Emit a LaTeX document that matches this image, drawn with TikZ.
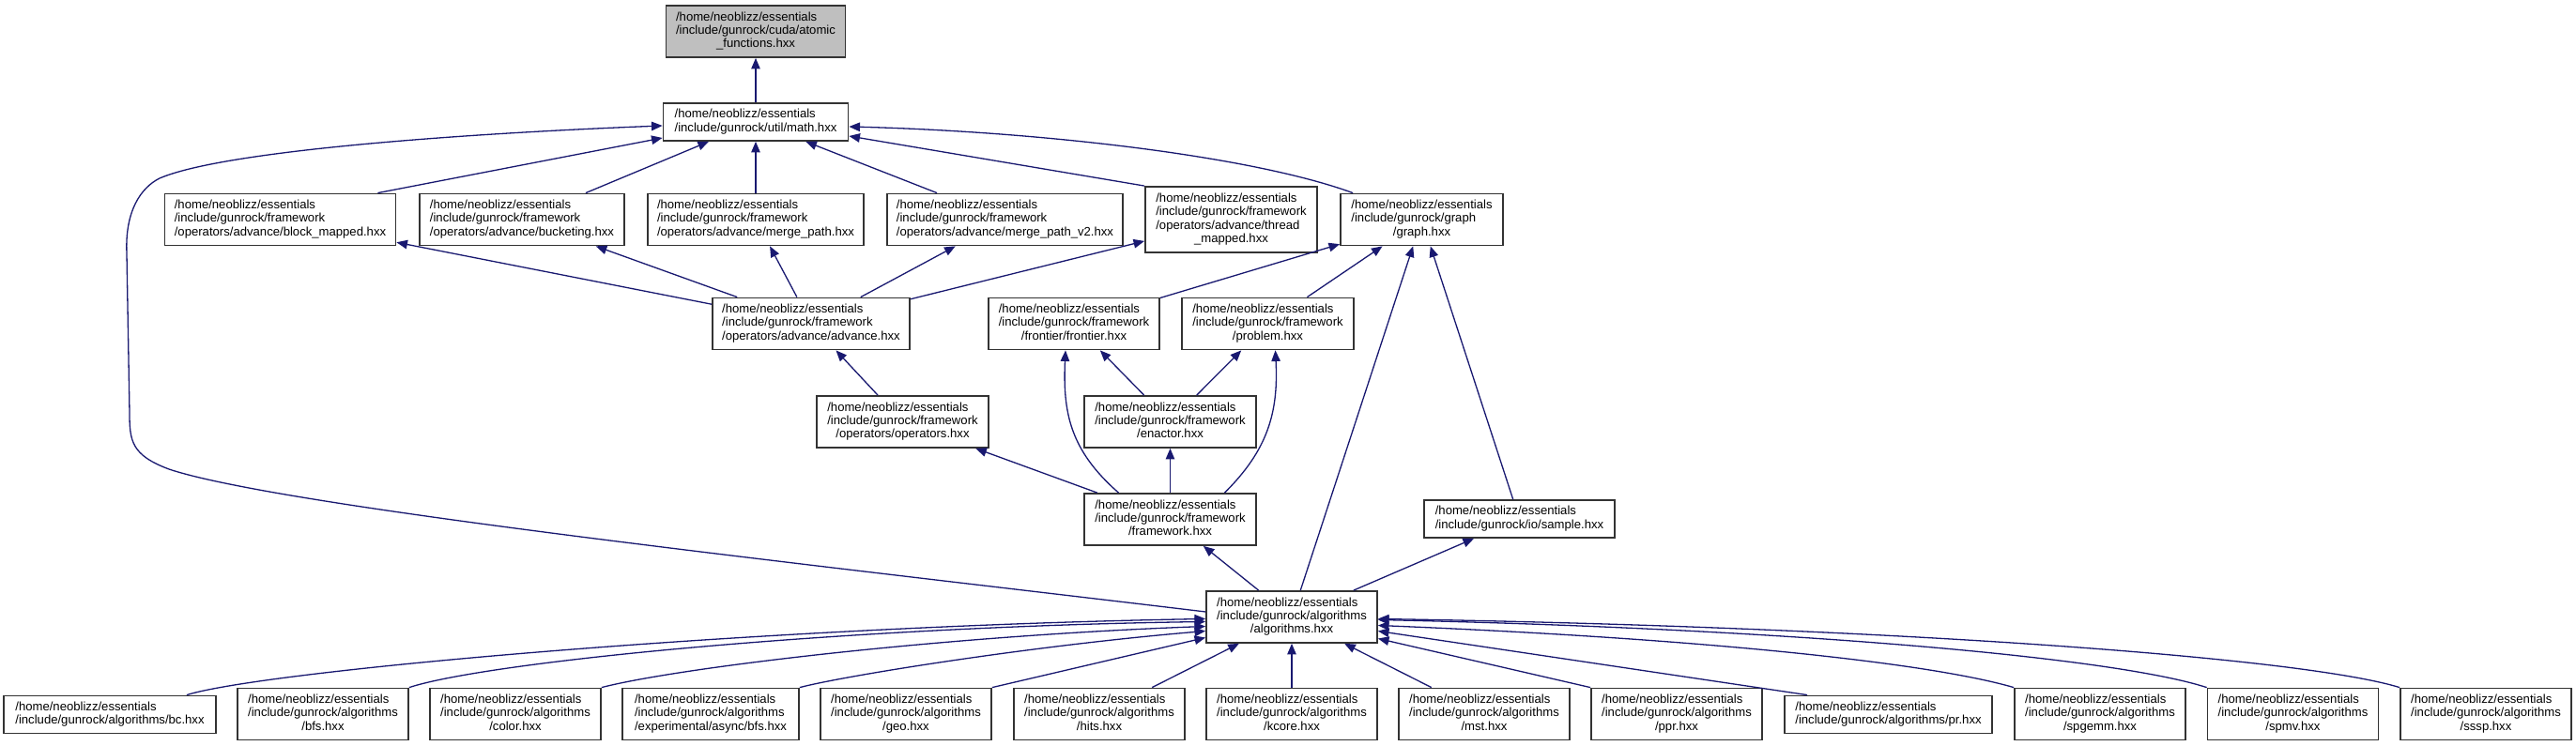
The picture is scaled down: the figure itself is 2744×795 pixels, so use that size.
\documentclass[tikz,border=0pt]{standalone}
\usepackage{fontspec}
\setmainfont{Liberation Sans}
\usetikzlibrary{arrows.meta,calc}
\definecolor{edgeblue}{RGB}{25,25,112}
\newcommand{\hxfont}{\fontsize{3.73pt}{4.07pt}\selectfont}
\newcommand{\flbl}[2]{\begin{tabular}{@{}l@{}}#1\\\multicolumn{1}{@{}c@{}}{#2}\end{tabular}}
\tikzset{hbox/.style={
    rectangle,
    draw=black!80,
    line width=0.5pt,
    fill=white,
    inner sep=0pt,
    font=\hxfont
  },
  selbox/.style={hbox,fill=black!25},
  tall2/.style={minimum height=40*0.01cm},
  tall3/.style={minimum height=55*0.01cm},
  tall4/.style={minimum height=70*0.01cm},
  wd/.style={minimum width=#1*0.01cm},
  leaf/.style={hbox,tall3,wd=182},
  incl/.style={draw=edgeblue,line width=0.37pt,-{Triangle[length=3.3pt,width=2.7pt]}},
}
\begin{document}
\begin{tikzpicture}[x=0.01cm,y=-0.01cm]
  \useasboundingbox (0,0) rectangle (2744,795);
  \node[selbox,tall3,wd=191] (atomic) at (805,33.5) {\flbl{/home/neoblizz/essentials\\/include/gunrock/cuda/atomic}{\_functions.hxx}};
  \node[hbox,tall2,wd=197] (math) at (805,130) {\flbl{/home/neoblizz/essentials}{/include/gunrock/util/math.hxx}};
  \node[hbox,tall3,wd=246] (blockm) at (298.5,234) {\flbl{/home/neoblizz/essentials\\/include/gunrock/framework}{/operators/advance/block\_mapped.hxx}};
  \node[hbox,tall3,wd=218] (bucket) at (556,234) {\flbl{/home/neoblizz/essentials\\/include/gunrock/framework}{/operators/advance/bucketing.hxx}};
  \node[hbox,tall3,wd=230] (mpath) at (805,234) {\flbl{/home/neoblizz/essentials\\/include/gunrock/framework}{/operators/advance/merge\_path.hxx}};
  \node[hbox,tall3,wd=251] (mpath2) at (1070.5,234) {\flbl{/home/neoblizz/essentials\\/include/gunrock/framework}{/operators/advance/merge\_path\_v2.hxx}};
  \node[hbox,tall4,wd=183] (thrmap) at (1311.5,234) {\flbl{/home/neoblizz/essentials\\/include/gunrock/framework\\/operators/advance/thread}{\_mapped.hxx}};
  \node[hbox,tall3,wd=173] (graph) at (1514.5,234) {\flbl{/home/neoblizz/essentials\\/include/gunrock/graph}{/graph.hxx}};
  \node[hbox,tall3,wd=210] (advance) at (864,345) {\flbl{/home/neoblizz/essentials\\/include/gunrock/framework}{/operators/advance/advance.hxx}};
  \node[hbox,tall3,wd=182] (frontier) at (1144,345) {\flbl{/home/neoblizz/essentials\\/include/gunrock/framework}{/frontier/frontier.hxx}};
  \node[hbox,tall3,wd=183] (problem) at (1350.5,345) {\flbl{/home/neoblizz/essentials\\/include/gunrock/framework}{/problem.hxx}};
  \node[hbox,tall3,wd=183] (opers) at (961.5,449.5) {\flbl{/home/neoblizz/essentials\\/include/gunrock/framework}{/operators/operators.hxx}};
  \node[hbox,tall3,wd=183] (enactor) at (1246.5,449.5) {\flbl{/home/neoblizz/essentials\\/include/gunrock/framework}{/enactor.hxx}};
  \node[hbox,tall3,wd=183] (framew) at (1246.5,553.5) {\flbl{/home/neoblizz/essentials\\/include/gunrock/framework}{/framework.hxx}};
  \node[hbox,tall2,wd=203] (sample) at (1618.5,553) {\flbl{/home/neoblizz/essentials}{/include/gunrock/io/sample.hxx}};
  \node[hbox,tall3,wd=182] (algos) at (1376,657.5) {\flbl{/home/neoblizz/essentials\\/include/gunrock/algorithms}{/algorithms.hxx}};
  \node[hbox,tall2,wd=226] (bc) at (117,761.5) {\flbl{/home/neoblizz/essentials}{/include/gunrock/algorithms/bc.hxx}};
  \node[leaf] (bfs) at (344,761) {\flbl{/home/neoblizz/essentials\\/include/gunrock/algorithms}{/bfs.hxx}};
  \node[leaf] (color) at (549,761) {\flbl{/home/neoblizz/essentials\\/include/gunrock/algorithms}{/color.hxx}};
  \node[leaf,wd=188] (async) at (757,761) {\flbl{/home/neoblizz/essentials\\/include/gunrock/algorithms}{/experimental/async/bfs.hxx}};
  \node[leaf] (geo) at (965,761) {\flbl{/home/neoblizz/essentials\\/include/gunrock/algorithms}{/geo.hxx}};
  \node[leaf] (hits) at (1171,761) {\flbl{/home/neoblizz/essentials\\/include/gunrock/algorithms}{/hits.hxx}};
  \node[leaf] (kcore) at (1376,761) {\flbl{/home/neoblizz/essentials\\/include/gunrock/algorithms}{/kcore.hxx}};
  \node[leaf] (mst) at (1581,761) {\flbl{/home/neoblizz/essentials\\/include/gunrock/algorithms}{/mst.hxx}};
  \node[leaf] (ppr) at (1786,761) {\flbl{/home/neoblizz/essentials\\/include/gunrock/algorithms}{/ppr.hxx}};
  \node[hbox,tall2,wd=221] (pr) at (2011.5,761.5) {\flbl{/home/neoblizz/essentials}{/include/gunrock/algorithms/pr.hxx}};
  \node[leaf] (spgemm) at (2237,761) {\flbl{/home/neoblizz/essentials\\/include/gunrock/algorithms}{/spgemm.hxx}};
  \node[leaf] (spmv) at (2442.5,761) {\flbl{/home/neoblizz/essentials\\/include/gunrock/algorithms}{/spmv.hxx}};
  \node[leaf] (sssp) at (2648,761) {\flbl{/home/neoblizz/essentials\\/include/gunrock/algorithms}{/sssp.hxx}};

  \draw[incl] (math) -- (atomic);
  \draw[incl] ($(blockm.north east)+(-20,0)$) -- ($(math.west)+(0,17)$);
  \draw[incl] (bucket) -- (math);
  \draw[incl] (mpath) -- (math);
  \draw[incl] (mpath2) -- (math);
  \draw[incl] (thrmap.north west) -- ($(math.east)+(0,15)$);
  \draw[incl] ($(graph.north west)+(14,0)$) .. controls (1330,165) and (1100,140) .. ($(math.east)+(0,5)$);
  \draw[incl] ($(algos.west)+(0,-5.5)$) .. controls (850,600) and (300,540) .. (180,500)
  .. controls (140,485) and (138,470) .. (138,440) -- (135,270)
  .. controls (133,225) and (150,200) .. (170,190)
  .. controls (240,160) and (500,142) .. ($(math.west)+(0,4)$);
  \draw[incl] (advance) -- (blockm);
  \draw[incl] (advance) -- (bucket);
  \draw[incl] (advance) -- (mpath);
  \draw[incl] (advance) -- (mpath2);
  \draw[incl] (advance) -- (thrmap);
  \draw[incl] (frontier) -- (graph);
  \draw[incl] (problem) -- (graph);
  \draw[incl] (opers) -- (advance);
  \draw[incl] (enactor) -- (frontier);
  \draw[incl] (enactor) -- (problem);
  \draw[incl] (framew) -- (opers);
  \draw[incl] (framew) -- (enactor);
  \draw[incl] ($(framew.north)+(-55,0)$) .. controls (1140,480) and (1132,440) .. ($(frontier.south)+(-9,0)$);
  \draw[incl] ($(framew.north)+(58,0)$) .. controls (1350,480) and (1362,440) .. ($(problem.south)+(8,0)$);
  \draw[incl] (sample) -- (graph);
  \draw[incl] (algos) -- (framew);
  \draw[incl] (algos) -- (graph);
  \draw[incl] (algos) -- (sample);
  \draw[incl] ($(bc.north east)+(-32,0)$) .. controls (280,715) and (800,668) .. ($(algos.west)+(0,2)$);
  \draw[incl] (bfs.north east) .. controls (520,705) and (900,668) .. ($(algos.west)+(0,5)$);
  \draw[incl] (color.north east) .. controls (720,712) and (1000,678) .. ($(algos.west)+(0,10)$);
  \draw[incl] (async.north east) .. controls (900,720) and (1100,688) .. ($(algos.west)+(0,15)$);
  \draw[incl] (geo.north east) -- ($(algos.west)+(0,22)$);
  \draw[incl] (hits) -- (algos);
  \draw[incl] (kcore) -- (algos);
  \draw[incl] (mst) -- (algos);
  \draw[incl] (ppr.north west) -- ($(algos.east)+(0,23)$);
  \draw[incl] ($(pr.north west)+(25,0)$) -- ($(algos.east)+(0,15)$);
  \draw[incl] (spgemm.north west) .. controls (2050,705) and (1800,680) .. ($(algos.east)+(0,9)$);
  \draw[incl] (spmv.north west) .. controls (2250,700) and (1900,670) .. ($(algos.east)+(0,3)$);
  \draw[incl] (sssp.north west) .. controls (2450,700) and (2000,668) .. ($(algos.east)+(0,2)$);
\end{tikzpicture}
\end{document}
